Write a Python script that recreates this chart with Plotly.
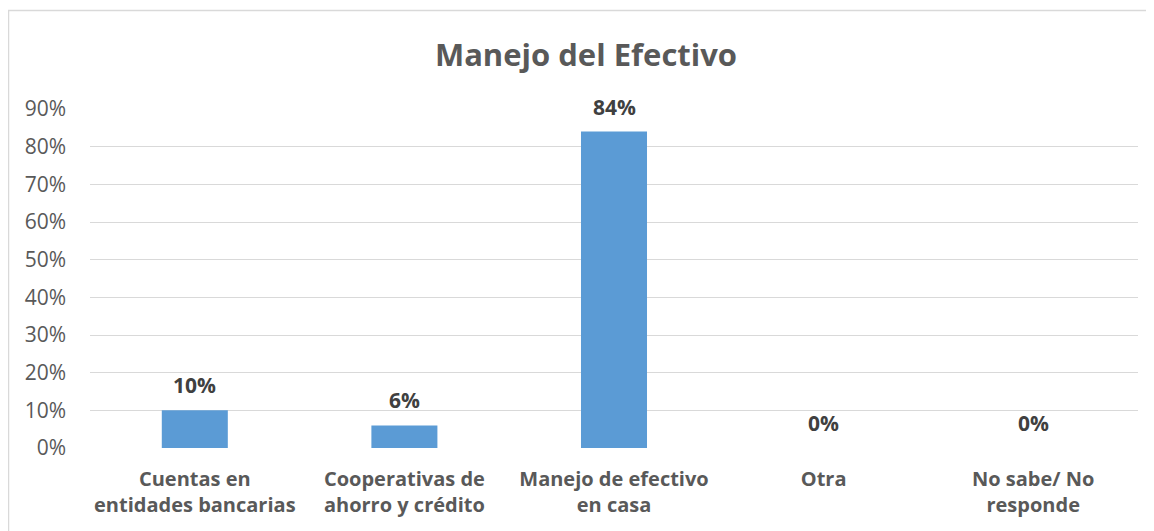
import plotly.graph_objects as go

categories = ["Cuentas en<br>entidades bancarias", "Cooperativas de<br>ahorro y crédito",
              "Manejo de efectivo<br>en casa", "Otra", "No sabe/ No<br>responde"]
values = [0.10, 0.06, 0.84, 0.0, 0.0]
labels = ["10%", "6%", "84%", "0%", "0%"]
y_ticks = [0, 0.1, 0.2, 0.3, 0.4, 0.5, 0.6, 0.7, 0.8, 0.9]
y_tick_text = ["0%", "10%", "20%", "30%", "40%", "50%", "60%", "70%", "80%", "90%"]

FONT = "Open Sans"
W, H = 1146, 523
L, R, T, B = 82, 16, 101, 83
PW = W - L - R
PH = H - T - B

fig = go.Figure()
fig.add_trace(go.Bar(x=categories, y=values, marker=dict(color="#5B9BD5", line=dict(width=0)),
                     hoverinfo="skip"))

for c, v, t in zip(categories, values, labels):
    fig.add_annotation(x=c, y=v, text="<b>%s</b>" % t, showarrow=False, yanchor="bottom",
                       yshift=9, font=dict(family=FONT, size=21, color="#404040"))

fig.update_layout(
    width=W, height=H,
    margin=dict(l=L, r=R, t=T, b=B),
    paper_bgcolor="white", plot_bgcolor="white",
    showlegend=False,
    bargap=0.685,
    title=dict(text="<b>Manejo del Efectivo</b>", x=578 / W, xanchor="center", xref="container",
               y=1 - 47 / H, yanchor="middle", yref="container",
               font=dict(family=FONT, size=31, color="#595959")),
    xaxis=dict(showline=False, showgrid=False, zeroline=False, ticks="",
               tickfont=dict(family=FONT, size=20, color="#595959"),
               tickprefix="<b>", ticksuffix="</b>",
               ticklabelstandoff=17),
    yaxis=dict(range=[0, 0.9], tickvals=y_ticks, ticktext=y_tick_text,
               showgrid=True, gridcolor="#D9D9D9", gridwidth=1.3, zeroline=False,
               showline=False, ticks="", ticklabelstandoff=23,
               tickfont=dict(family=FONT, size=21, color="#595959")),
)

fig.add_shape(type="rect", xref="paper", yref="paper",
              x0=(0.5 - L) / PW, x1=(1250 - L) / PW,
              y0=(T + PH - 700) / PH, y1=(T + PH - 2.5) / PH,
              line=dict(color="#D9D9D9", width=1.5), fillcolor="rgba(0,0,0,0)", layer="below")

fig.write_html("out.html")
